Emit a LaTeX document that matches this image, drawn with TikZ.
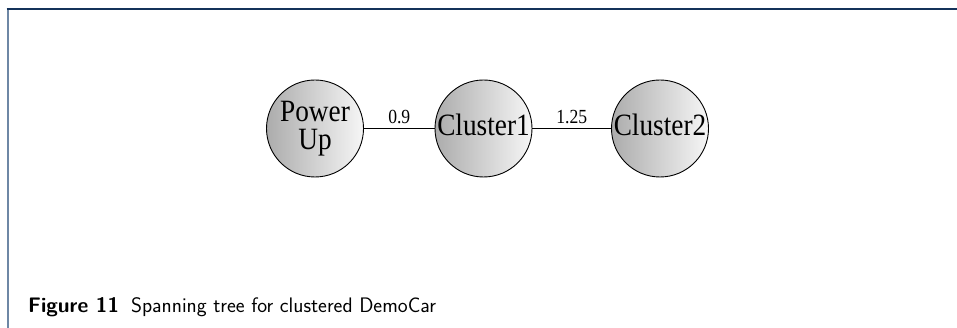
\documentclass[tikz,border=0pt]{standalone}
\usepackage{fontspec}
\newfontfamily\nodefont[FakeStretch=0.88]{Liberation Serif}
\definecolor{framenavy}{RGB}{20,50,90}
\definecolor{frameside}{RGB}{110,135,165}
\definecolor{shadeL}{RGB}{172,172,172}
\definecolor{shadeR}{RGB}{246,246,246}
\tikzset{
  circ/.style={circle, draw=black, line width=0.9pt, minimum size=97pt, inner sep=0pt,
    left color=shadeL, right color=shadeR, shading angle=90,
    font=\nodefont\fontsize{31}{28}\selectfont, align=center},
  edgeline/.style={line width=0.9pt, black},
  wlabel/.style={font=\nodefont\fontsize{20}{22}\selectfont, inner sep=0pt, above=4.5pt}
}
\begin{document}
\begin{tikzpicture}[x=1pt,y=1pt]
\useasboundingbox (0,0) rectangle (957,-328);
\fill[white] (0,0) rectangle (957,-328);
\draw[frameside, line width=2pt] (7.5,-9) -- (7.5,-328);
\draw[framenavy, line width=1.4pt] (6.5,-9) -- (957,-9);

\node[circ] (pu) at (315,-128.5) {Power\\Up};
\node[circ, text depth=7pt] (c1) at (483.5,-128.5) {Cluster1};
\node[circ, text depth=7pt] (c2) at (660,-128.5) {Cluster2};

\draw[edgeline] (pu) -- node[wlabel] {0.9} (c1);
\draw[edgeline] (c1) -- node[wlabel] {1.25} (c2);

\node[anchor=base west, inner sep=0pt, font=\sffamily\fontsize{21}{25}\selectfont] (cap) at (28,-312)
  {\textbf{Figure 11}\hspace{12pt}Spanning tree for clustered DemoCar};
\end{tikzpicture}
\end{document}
